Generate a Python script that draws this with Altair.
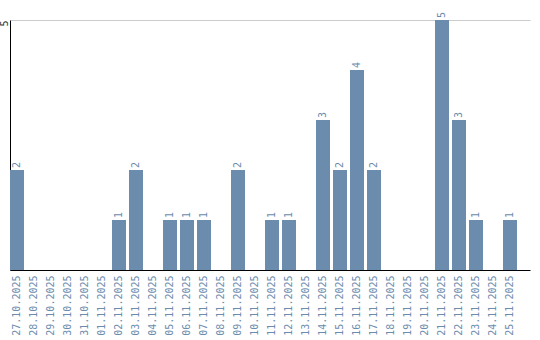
import altair as alt
import pandas as pd

dates = ["27.10.2025", "28.10.2025", "29.10.2025", "30.10.2025", "31.10.2025",
         "01.11.2025", "02.11.2025", "03.11.2025", "04.11.2025", "05.11.2025",
         "06.11.2025", "07.11.2025", "08.11.2025", "09.11.2025", "10.11.2025",
         "11.11.2025", "12.11.2025", "13.11.2025", "14.11.2025", "15.11.2025",
         "16.11.2025", "17.11.2025", "18.11.2025", "19.11.2025", "20.11.2025",
         "21.11.2025", "22.11.2025", "23.11.2025", "24.11.2025", "25.11.2025"]
counts = [2, 0, 0, 0, 0, 0, 1, 2, 0, 1, 1, 1, 0, 2, 0, 1, 1, 0, 3, 2, 4, 2, 0, 0, 0, 5, 3, 1, 0, 1]
y_ticks = [5]

df = pd.DataFrame({"date": dates, "count": counts})

FONT = "DejaVu Sans Mono"
BAR = "#6b8cad"
TXT = "#6b8cad"

x = alt.X("date:N", sort=dates, title=None,
          scale=alt.Scale(paddingInner=0.176, paddingOuter=0.382, align=0),
          axis=alt.Axis(labelAngle=-90, labelAlign="right", labelBaseline="middle",
                        labelFont=FONT, labelFontSize=10, labelColor=TXT,
                        labelPadding=5, ticks=False, domainColor="black",
                        domainWidth=1, labelOverlap=False))
y = alt.Y("count:Q", title=None, scale=alt.Scale(domain=[0, 5], nice=False),
          axis=alt.Axis(values=y_ticks, labelAngle=-90, labelAlign="right",
                        labelBaseline="middle", labelPadding=6, labelFlush=False,
                        labelFont=FONT, labelFontSize=10, labelColor="#333333",
                        ticks=False, domainColor="black", domainWidth=1,
                        grid=True, gridColor="#cccccc", gridWidth=1))

bars = alt.Chart(df).mark_bar(color=BAR).encode(x=x, y=y)
labels = alt.Chart(df).transform_filter("datum.count > 0").mark_text(
    angle=270, align="left", baseline="middle", dx=2,
    font=FONT, fontSize=10, color=TXT
).encode(x=alt.X("date:N", sort=dates), y="count:Q", text="count:Q")

chart = (bars + labels).properties(
    width=520, height=250,
    padding={"left": 10, "top": 20, "right": 10, "bottom": 70},
    autosize=alt.AutoSizeParams(type="none"),
    background="white"
).configure_view(stroke=None)

chart.save("out.html", embed_options={"renderer": "svg", "actions": False})
